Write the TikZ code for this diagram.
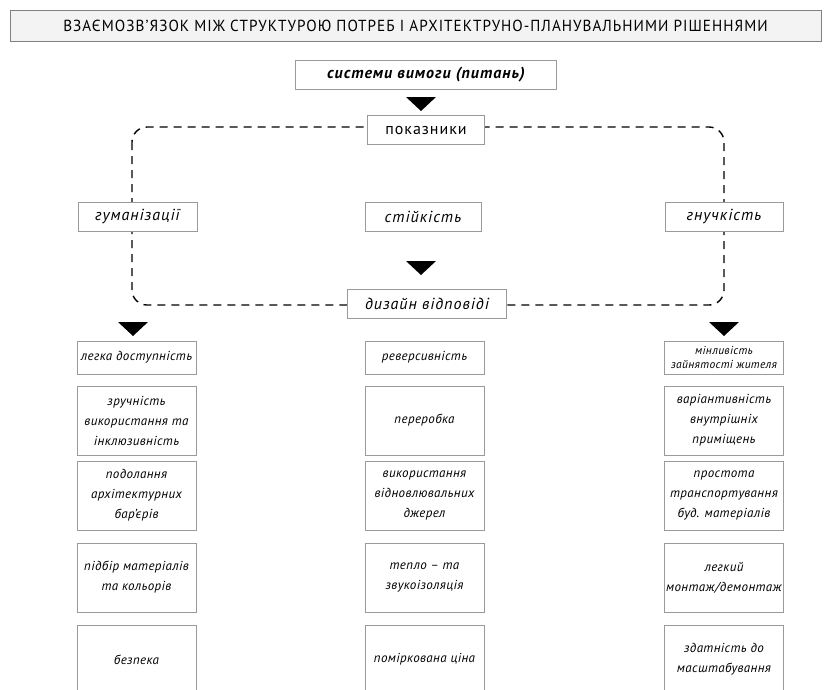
\documentclass[tikz,border=0pt]{standalone}
\usepackage{fontspec}
\usetikzlibrary{positioning}
\setmainfont{PT Sans}
\newfontfamily\headfont[FakeStretch=0.95,LetterSpace=6.5]{PT Sans}
\newfontfamily\cellfont[LetterSpace=6]{PT Sans}
\newfontfamily\bodyfont[LetterSpace=3]{PT Sans}
\definecolor{FrameGray}{HTML}{9A9A9A}
\definecolor{TitleFill}{HTML}{F3F3F3}
\tikzset{
  titlebox/.style={draw=black!50,fill=TitleFill,line width=1pt,minimum width=811pt,
    minimum height=31pt,inner sep=0pt,font=\headfont\fontsize{16}{18}\selectfont},
  headbox/.style={draw=FrameGray,fill=white,line width=.9pt,minimum height=29pt,
    inner sep=0pt,font=\cellfont\itshape\fontsize{16}{18}\selectfont},
  plainhead/.style={headbox,font=\cellfont\fontsize{16}{18}\selectfont},
  cellbox/.style={draw=FrameGray,fill=white,line width=.9pt,minimum width=119pt,
    inner sep=0pt,align=center,font=\bodyfont\itshape\fontsize{13}{20}\selectfont},
  rowone/.style={cellbox,minimum height=33pt},
  rowtall/.style={cellbox,minimum height=69pt},
  frame/.style={draw=black,line width=1.4pt,dash pattern=on 8pt off 6pt,rounded corners=15pt},
  pointer/.style={fill=black}
}
\newcommand\pointerat[1]{\fill[pointer] (#1) ++(-15,0) -- ++(30,0) -- ++(-15,14) -- cycle;}

\begin{document}
\begin{tikzpicture}[x=1pt,y=-1pt]
  \useasboundingbox (0,0) rectangle (831,689);
  \clip (0,0) rectangle (831,689);
  \node[titlebox] (title) at (415.5,25.5)
    {ВЗАЄМОЗВ’ЯЗОК МІЖ СТРУКТУРОЮ ПОТРЕБ І АРХІТЕКТРУНО-ПЛАНУВАЛЬНИМИ РІШЕННЯМИ};

  % dashed frame round the three indicators
  \draw[frame] (132,127) rectangle (724,305);

  \node[headbox,minimum width=261pt,font=\cellfont\itshape\bfseries\fontsize{16}{18}\selectfont]
    (needs) at (426,75) {системи вимоги (питань)};
  \coordinate (p0) at (421,97);
  \pointerat{p0}
  \node[plainhead,minimum width=117pt] (indic) at (426,130) {показники};

  \node[headbox,minimum width=119pt] (human) at (137.5,216.5) {гуманізації};
  \node[headbox,minimum width=116pt] (stable) at (423,216.5) {стійкість};
  \node[headbox,minimum width=118pt] (flex) at (724,216.5) {гнучкість};

  \coordinate (p1) at (421,261);
  \pointerat{p1}
  \node[headbox,minimum width=159pt] (design) at (427,303.5) {дизайн відповіді};

  \coordinate (p2) at (133,322);
  \coordinate (p3) at (724,322);
  \pointerat{p2}
  \pointerat{p3}

  % left column
  \node[rowone] (h1) at (136.5,357.5) {легка доступність};
  \node[rowtall] (h2) at (136.5,420.5) {зручність\\використання та\\інклюзивність};
  \node[rowtall] (h3) at (136.5,495.5) {подолання\\архітектурних\\бар’єрів};
  \node[rowtall] (h4) at (136.5,577.5) {підбір матеріалів\\та кольорів};
  \node[rowtall] (h5) at (136.5,659.5) {безпека};

  % middle column
  \node[rowone] (s1) at (424.5,357.5) {реверсивність};
  \node[rowtall] (s2) at (424.5,420.5) {переробка};
  \node[rowtall] (s3) at (424.5,495.5) {використання\\відновлювальних\\джерел};
  \node[rowtall] (s4) at (424.5,577.5) {тепло – та\\звукоізоляція};
  \node[rowtall] (s5) at (424.5,659.5) {поміркована ціна};

  % right column
  \node[rowone,font=\bodyfont\itshape\fontsize{11.5}{14}\selectfont]
    (f1) at (724,357.5) {мінливість\\зайнятості жителя};
  \node[rowtall] (f2) at (724,420.5) {варіантивність\\внутрішніх\\приміщень};
  \node[rowtall] (f3) at (724,495.5) {простота\\транспортування\\буд. матеріалів};
  \node[rowtall] (f4) at (724,577.5) {легкий\\монтаж/демонтаж};
  \node[rowtall] (f5) at (724,659.5) {здатність до\\масштабування};
\end{tikzpicture}
\end{document}
